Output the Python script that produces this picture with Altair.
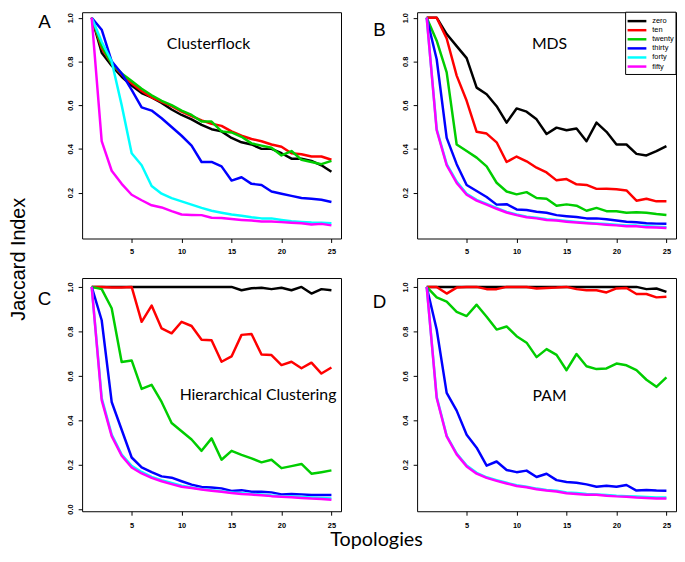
import altair as alt
import pandas as pd

topologies = list(range(1, 26))
series_names = ["zero", "ten", "twenty", "thirty", "forty", "fifty"]
series_colors = ["#000000", "#FF0000", "#00CD00", "#0000FF", "#00FFFF", "#FF00FF"]

# Panel A: Clusterflock
cf_zero = [1.0, 0.84, 0.78, 0.73, 0.69, 0.655, 0.635, 0.61, 0.58, 0.555, 0.535, 0.51, 0.49, 0.48, 0.45, 0.43, 0.42, 0.40, 0.40, 0.38, 0.355, 0.355, 0.345, 0.325, 0.295]
cf_ten = [1.0, 0.86, 0.79, 0.74, 0.70, 0.665, 0.635, 0.615, 0.595, 0.57, 0.55, 0.53, 0.515, 0.505, 0.48, 0.46, 0.445, 0.435, 0.42, 0.41, 0.38, 0.375, 0.365, 0.365, 0.35]
cf_twenty = [1.0, 0.87, 0.79, 0.745, 0.71, 0.675, 0.645, 0.62, 0.60, 0.575, 0.555, 0.525, 0.525, 0.48, 0.475, 0.455, 0.425, 0.415, 0.405, 0.37, 0.39, 0.35, 0.34, 0.33, 0.345]
cf_thirty = [1.0, 0.945, 0.80, 0.745, 0.67, 0.59, 0.575, 0.54, 0.50, 0.46, 0.415, 0.34, 0.34, 0.32, 0.255, 0.27, 0.24, 0.235, 0.205, 0.195, 0.185, 0.175, 0.172, 0.167, 0.157]
cf_forty = [1.0, 0.89, 0.80, 0.60, 0.38, 0.325, 0.23, 0.195, 0.175, 0.16, 0.145, 0.13, 0.117, 0.108, 0.10, 0.094, 0.087, 0.082, 0.082, 0.075, 0.069, 0.066, 0.063, 0.062, 0.06]
cf_fifty = [1.0, 0.435, 0.30, 0.24, 0.19, 0.165, 0.142, 0.132, 0.115, 0.10, 0.098, 0.097, 0.085, 0.084, 0.079, 0.075, 0.072, 0.068, 0.068, 0.065, 0.062, 0.06, 0.054, 0.057, 0.05]

# Panel B: MDS
mds_zero = [1.0, 1.0, 0.925, 0.87, 0.815, 0.68, 0.65, 0.595, 0.52, 0.585, 0.57, 0.535, 0.468, 0.497, 0.485, 0.493, 0.435, 0.52, 0.478, 0.42, 0.42, 0.377, 0.37, 0.39, 0.413]
mds_ten = [1.0, 1.0, 0.905, 0.735, 0.62, 0.478, 0.47, 0.43, 0.34, 0.365, 0.343, 0.314, 0.292, 0.256, 0.262, 0.238, 0.235, 0.217, 0.218, 0.215, 0.21, 0.163, 0.172, 0.16, 0.16]
mds_twenty = [1.0, 0.895, 0.75, 0.42, 0.39, 0.36, 0.32, 0.245, 0.205, 0.192, 0.202, 0.175, 0.172, 0.14, 0.146, 0.14, 0.117, 0.13, 0.115, 0.115, 0.108, 0.11, 0.108, 0.102, 0.098]
mds_thirty = [1.0, 0.81, 0.45, 0.33, 0.235, 0.207, 0.18, 0.145, 0.147, 0.123, 0.12, 0.112, 0.108, 0.097, 0.092, 0.088, 0.082, 0.082, 0.078, 0.072, 0.067, 0.064, 0.06, 0.058, 0.057]
mds_forty = [1.0, 0.49, 0.33, 0.25, 0.195, 0.167, 0.148, 0.13, 0.112, 0.10, 0.09, 0.085, 0.078, 0.075, 0.07, 0.066, 0.062, 0.059, 0.056, 0.053, 0.05, 0.049, 0.046, 0.044, 0.042]
mds_fifty = [1.0, 0.485, 0.325, 0.244, 0.19, 0.163, 0.145, 0.126, 0.109, 0.097, 0.087, 0.082, 0.075, 0.072, 0.067, 0.063, 0.06, 0.057, 0.053, 0.05, 0.046, 0.046, 0.041, 0.04, 0.038]

# Panel C: Hierarchical Clustering
hc_zero = [1.0, 1.0, 1.0, 1.0, 1.0, 1.0, 1.0, 1.0, 1.0, 1.0, 1.0, 1.0, 1.0, 1.0, 1.0, 0.985, 0.994, 0.996, 0.99, 0.996, 0.985, 1.0, 0.97, 0.99, 0.985]
hc_ten = [1.0, 1.0, 0.997, 0.997, 1.0, 0.843, 0.916, 0.813, 0.791, 0.843, 0.824, 0.762, 0.76, 0.663, 0.687, 0.784, 0.788, 0.696, 0.693, 0.648, 0.663, 0.634, 0.659, 0.61, 0.637]
hc_twenty = [1.0, 0.99, 0.904, 0.662, 0.669, 0.541, 0.559, 0.482, 0.387, 0.35, 0.313, 0.262, 0.318, 0.222, 0.262, 0.244, 0.228, 0.21, 0.222, 0.184, 0.193, 0.203, 0.159, 0.166, 0.174]
hc_thirty = [1.0, 0.85, 0.482, 0.357, 0.232, 0.188, 0.166, 0.147, 0.141, 0.125, 0.11, 0.099, 0.097, 0.093, 0.081, 0.085, 0.078, 0.078, 0.075, 0.066, 0.068, 0.066, 0.063, 0.063, 0.063]
hc_forty = [1.0, 0.50, 0.335, 0.245, 0.195, 0.167, 0.145, 0.13, 0.117, 0.105, 0.097, 0.09, 0.085, 0.08, 0.075, 0.071, 0.068, 0.065, 0.061, 0.058, 0.056, 0.054, 0.052, 0.05, 0.048]
hc_fifty = [1.0, 0.49, 0.328, 0.24, 0.187, 0.16, 0.14, 0.125, 0.112, 0.10, 0.095, 0.088, 0.082, 0.078, 0.072, 0.068, 0.065, 0.062, 0.058, 0.055, 0.053, 0.05, 0.047, 0.045, 0.042]

# Panel D: PAM
pam_zero = [1.0, 1.0, 1.0, 1.0, 1.0, 1.0, 1.0, 1.0, 1.0, 1.0, 1.0, 1.0, 1.0, 1.0, 1.0, 1.0, 1.0, 1.0, 1.0, 1.0, 1.0, 1.0, 0.99, 0.993, 0.978]
pam_ten = [1.0, 1.0, 0.97, 0.997, 1.0, 1.0, 0.99, 0.99, 1.0, 1.0, 1.0, 0.993, 0.995, 0.997, 1.0, 0.99, 0.985, 0.985, 0.975, 0.993, 0.995, 0.968, 0.968, 0.953, 0.956]
pam_twenty = [1.0, 0.953, 0.934, 0.888, 0.869, 0.92, 0.866, 0.808, 0.822, 0.778, 0.749, 0.684, 0.72, 0.694, 0.625, 0.698, 0.643, 0.63, 0.633, 0.655, 0.647, 0.625, 0.582, 0.55, 0.593]
pam_thirty = [1.0, 0.808, 0.523, 0.443, 0.334, 0.276, 0.195, 0.214, 0.176, 0.166, 0.173, 0.144, 0.159, 0.13, 0.122, 0.118, 0.111, 0.10, 0.105, 0.10, 0.108, 0.083, 0.086, 0.083, 0.082]
pam_forty = [1.0, 0.505, 0.33, 0.25, 0.196, 0.163, 0.143, 0.13, 0.118, 0.107, 0.10, 0.092, 0.086, 0.082, 0.075, 0.072, 0.068, 0.066, 0.063, 0.06, 0.058, 0.056, 0.054, 0.052, 0.052]
pam_fifty = [1.0, 0.50, 0.327, 0.246, 0.192, 0.159, 0.14, 0.127, 0.115, 0.104, 0.098, 0.089, 0.083, 0.079, 0.071, 0.068, 0.064, 0.064, 0.06, 0.057, 0.055, 0.052, 0.05, 0.047, 0.047]

x_tick_values = [5, 10, 15, 20, 25]
y_ticks_top = [0.2, 0.4, 0.6, 0.8, 1.0]
y_ticks_c = [0.0, 0.2, 0.4, 0.6, 0.8, 1.0]
y_ticks_d = [0.2, 0.4, 0.6, 0.8, 1.0]

TICK_FONT = "Liberation Sans"
TITLE_FONT = "Lato"
W = 262
H_TOP = 229
H_BOT = 236


def panel_df(series_values):
    rows = []
    for name, vals in zip(series_names, series_values):
        for t, v in zip(topologies, vals):
            rows.append({"topology": t, "jaccard": v, "series": name})
    return pd.DataFrame(rows)


color_enc = alt.Color("series:N", scale=alt.Scale(domain=series_names, range=series_colors), legend=None)


def text_layer(label, x, y, font, size, angle=0, weight="normal"):
    return alt.Chart(pd.DataFrame({"label": [label]})).mark_text(
        font=font, fontSize=size, align="center", baseline="alphabetic",
        angle=angle, color="black", fontWeight=weight
    ).encode(text="label:N", x=alt.value(x), y=alt.value(y))


def lines_layer(df, y_domain, y_ticks, label_pad_x):
    return alt.Chart(df).mark_line(strokeWidth=2.5, strokeJoin="round").encode(
        x=alt.X("topology:Q",
                scale=alt.Scale(domain=[0.04, 25.96], nice=False, zero=False),
                axis=alt.Axis(values=x_tick_values, title=None, grid=False, domain=False,
                              tickSize=4, labelPadding=label_pad_x, format="d")),
        y=alt.Y("jaccard:Q",
                scale=alt.Scale(domain=y_domain, nice=False, zero=False),
                axis=alt.Axis(values=y_ticks, title=None, grid=False, domain=False,
                              tickSize=4, labelAngle=270, labelAlign="center",
                              labelBaseline="bottom", labelPadding=4, format=".1f")),
        color=color_enc,
    )


top_domain = [-0.01, 1.025]
bot_domain = [-0.01, 1.04]

# Panel A
A = alt.layer(
    lines_layer(panel_df([cf_zero, cf_ten, cf_twenty, cf_thirty, cf_forty, cf_fifty]), top_domain, y_ticks_top, 5),
    text_layer("Clusterflock", 128, 37, TITLE_FONT, 16),
    text_layer("A", -38, 16, "Liberation Sans", 19),
    text_layer("Jaccard Index", -58, 250, "Liberation Sans", 20, angle=270),
).properties(width=W, height=H_TOP)

# Panel B with legend
legend_df = pd.DataFrame({"series": series_names})
legend_y = alt.Y("series:N", axis=None,
                 scale=alt.Scale(type="point", domain=series_names, range=[9, 55], padding=0))
legend_box = alt.Chart(pd.DataFrame({"k": [0]})).mark_rect(
    fill="white", stroke="black", strokeWidth=1
).encode(x=alt.value(211), x2=alt.value(W), y=alt.value(0), y2=alt.value(63))
legend_rules = alt.Chart(legend_df).mark_rule(strokeWidth=2.5).encode(
    x=alt.value(213), x2=alt.value(232), y=legend_y, color=color_enc)
legend_text = alt.Chart(legend_df).mark_text(
    font=TICK_FONT, fontSize=7.5, align="left", baseline="middle", color="black"
).encode(x=alt.value(238), y=legend_y, text="series:N")

B = alt.layer(
    lines_layer(panel_df([mds_zero, mds_ten, mds_twenty, mds_thirty, mds_forty, mds_fifty]), top_domain, y_ticks_top, 5),
    text_layer("MDS", 134, 37, TITLE_FONT, 16),
    text_layer("B", -38, 24, "Liberation Sans", 19),
    legend_box, legend_rules, legend_text,
).resolve_scale(y="independent").properties(width=W, height=H_TOP)

# Panel C
C = alt.layer(
    lines_layer(panel_df([hc_zero, hc_ten, hc_twenty, hc_thirty, hc_forty, hc_fifty]), bot_domain, y_ticks_c, 6),
    text_layer("Hierarchical  Clustering", 178, 123, TITLE_FONT, 16),
    text_layer("C", -38, 27, "Liberation Sans", 19),
    text_layer("Topologies", 298, 271, TITLE_FONT, 20),
).properties(width=W, height=H_BOT)

# Panel D
D = alt.layer(
    lines_layer(panel_df([pam_zero, pam_ten, pam_twenty, pam_thirty, pam_forty, pam_fifty]), bot_domain, y_ticks_d, 6),
    text_layer("PAM", 134, 124, TITLE_FONT, 16),
    text_layer("D", -38, 30, "Liberation Sans", 19),
).properties(width=W, height=H_BOT)

chart = alt.concat(
    A, B, C, D, columns=2, spacing={"row": 40, "column": 77}, bounds="flush"
).resolve_scale(
    x="independent", y="independent"
).properties(padding=0).configure_view(
    stroke="black", strokeWidth=1
).configure_axis(
    labelFont=TICK_FONT, labelFontSize=7.5, labelFontWeight="bold", labelColor="black",
    tickColor="black", tickWidth=1
)

chart.save("out.html", embed_options={"renderer": "svg", "actions": False})
